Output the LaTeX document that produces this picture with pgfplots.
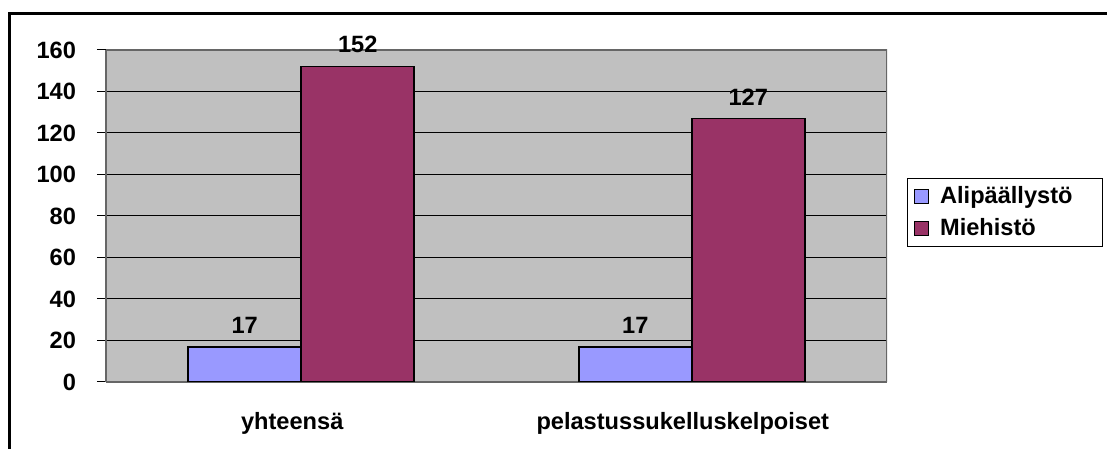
\documentclass[border=0pt]{standalone}
\usepackage{fontspec}
\setmainfont{Liberation Sans}
\usepackage{pgfplots}
\pgfplotsset{compat=1.18}
\definecolor{alip}{HTML}{9999FF}
\definecolor{mieh}{HTML}{993366}
\definecolor{plotbg}{HTML}{C0C0C0}
\begin{document}
\begin{tikzpicture}[x=0.5pt,y=0.5pt]
\path[use as bounding box] (0,0) rectangle (1107,449);
% outer chart border (cut off at right and bottom)
\draw[line width=1.5pt] (9,0) -- (9,435) -- (1107,435);
\begin{axis}[
    at={(53pt,33.5pt)}, anchor=south west,
    scale only axis, width=390.5pt, height=166pt,
    ybar=0pt, bar width=56.5pt,
    xmin=-0.5, xmax=1.5,
    ymin=0, ymax=160, ytick={0,20,...,160},
    xtick={0,1}, xticklabels={yhteensä, pelastussukelluskelpoiset},
    major x tick style={draw=none},
    extra x ticks={-0.5,0.5,1.5}, extra x tick labels={},
    extra x tick style={major tick length=3pt, tick align=outside, grid=none, tick style={black!60}},
    ymajorgrids, grid style={black, line width=0.5pt},
    ytick style={black, line width=0.5pt}, tick align=outside, major tick length=4.5pt,
    axis x line*=bottom, axis y line*=left,
    axis line style={black!60, line width=0.8pt},
    axis background/.style={fill=plotbg},
    font=\bfseries\fontsize{11.8}{14}\selectfont,
    /pgf/number format/assume math mode=true,
    yticklabel style={xshift=-7pt},
    xticklabel style={yshift=-7pt, xshift=-4.5pt},
    nodes near coords,
    nodes near coords style={font=\bfseries\fontsize{11.8}{14}\selectfont, anchor=south, yshift=3pt},
    legend style={at={(1.0256,0.614)}, anchor=north west, draw=black, line width=0.5pt,
        font=\bfseries\fontsize{11.8}{14}\selectfont, row sep=2pt, inner xsep=3pt, inner ysep=2pt,
        cells={anchor=west}},
    legend image code/.code={\draw[#1, draw=black, line width=0.6pt] (0pt,-3.5pt) rectangle (7pt,3.5pt);
        \path[draw=none, fill=none] (0pt,0pt) -- (11pt,0pt);},
]
\addplot[fill=alip, draw=black, line width=0.8pt] coordinates {(0,17) (1,17)};
\addplot[fill=mieh, draw=black, line width=0.8pt] coordinates {(0,152) (1,127)};
\legend{\makebox[76pt][l]{Alipäällystö}, Miehistö}
\draw[black!60, line width=0.8pt] (rel axis cs:1,0) -- (rel axis cs:1,1) -- (rel axis cs:0,1);
\end{axis}
\end{tikzpicture}
\end{document}
